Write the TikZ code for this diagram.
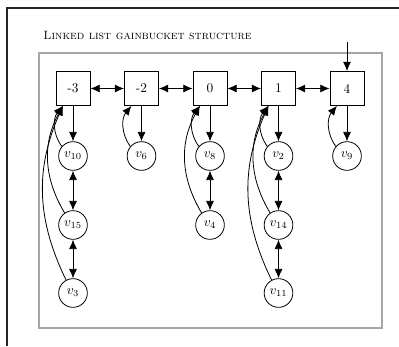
\documentclass[tikz,border=0pt]{standalone}
\usetikzlibrary{arrows.meta}
\begin{document}
\begin{tikzpicture}[x=0.75pt,y=0.75pt, line width=0.6pt,
  bucket/.style={draw, minimum size=25.5pt, inner sep=0pt},
  vert/.style={draw, circle, minimum size=21.5pt, inner sep=0pt},
  tip/.style={-{Latex[length=7pt,width=6pt]}},
  dtip/.style={{Latex[length=7pt,width=6pt]}-{Latex[length=7pt,width=6pt]}},
  backa/.style={tip, bend left=38},
  backb/.style={tip, bend left=30},
  backc/.style={tip, bend left=25}
]
\useasboundingbox (0,0) rectangle (399,-346);
\draw[line width=0.9pt, black!85] (7,-346) -- (7,-8) -- (399,-8);
\node[anchor=base west, font=\fontsize{9}{11}\selectfont\scshape, inner sep=0pt] (title) at (43,-40) {Linked list gainbucket structure};
\draw[black!35, line width=1.1pt] (39,-53) rectangle (382,-328);

\node[bucket] (bm3) at (73,-88.5) {-3};
\node[bucket] (bm2) at (141.5,-88.5) {-2};
\node[bucket] (b0) at (210,-88.5) {0};
\node[bucket] (b1) at (278.5,-88.5) {1};
\node[bucket] (b4) at (347,-88.5) {4};
\coordinate (top4) at (347,-42);

\node[vert] (v10) at (73,-156) {$v_{10}$};
\node[vert] (v15) at (73,-225) {$v_{15}$};
\node[vert] (v3) at (73,-293) {$v_{3}$};
\node[vert] (v6) at (141.5,-156) {$v_{6}$};
\node[vert] (v8) at (210,-156) {$v_{8}$};
\node[vert] (v4) at (210,-225) {$v_{4}$};
\node[vert] (v2) at (278.5,-156) {$v_{2}$};
\node[vert] (v14) at (278.5,-225) {$v_{14}$};
\node[vert] (v11) at (278.5,-293) {$v_{11}$};
\node[vert] (v9) at (347,-156) {$v_{9}$};

\draw[tip] (top4) -- (b4);
\draw[dtip] (bm3) -- (bm2);
\draw[dtip] (bm2) -- (b0);
\draw[dtip] (b0) -- (b1);
\draw[dtip] (b1) -- (b4);

\draw[tip] (bm3) -- (v10);
\draw[tip] (bm2) -- (v6);
\draw[tip] (b0) -- (v8);
\draw[tip] (b1) -- (v2);
\draw[tip] (b4) -- (v9);

\draw[dtip] (v10) -- (v15);
\draw[dtip] (v15) -- (v3);
\draw[dtip] (v8) -- (v4);
\draw[dtip] (v2) -- (v14);
\draw[dtip] (v14) -- (v11);

\draw[backa] (v10) to (bm3.240);
\draw[backb] (v15) to (bm3.240);
\draw[backc] (v3) to (bm3.240);
\draw[backa] (v6) to (bm2.240);
\draw[backa] (v8) to (b0.240);
\draw[backb] (v4) to (b0.240);
\draw[backa] (v2) to (b1.240);
\draw[backb] (v14) to (b1.240);
\draw[backc] (v11) to (b1.240);
\draw[backa] (v9) to (b4.240);
\end{tikzpicture}
\end{document}
